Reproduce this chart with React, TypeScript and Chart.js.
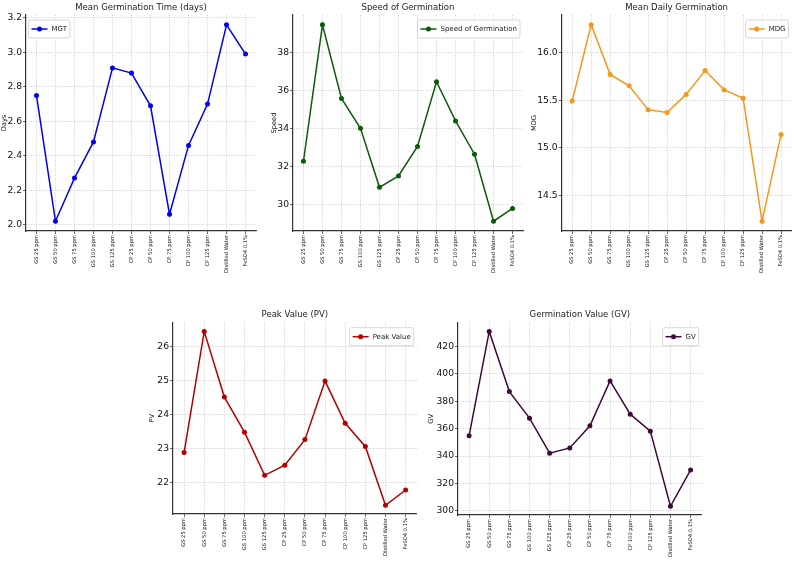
import React, { useEffect, useRef } from "react";
import { Chart, registerables } from "chart.js";
Chart.register(...registerables);

const FONT = "DejaVu Sans";

const categories = [
  "GS 25 ppm", "GS 50 ppm", "GS 75 ppm", "GS 100 ppm", "GS 125 ppm",
  "CP 25 ppm", "CP 50 ppm", "CP 75 ppm", "CP 100 ppm", "CP 125 ppm",
  "Distilled Water", "FeSO4 0.1%",
];

const mgtValues = [2.75, 2.02, 2.27, 2.48, 2.91, 2.88, 2.69, 2.06, 2.46, 2.70, 3.16, 2.99];
const speedValues = [32.27, 39.44, 35.57, 34.0, 30.9, 31.5, 33.05, 36.45, 34.39, 32.64, 29.12, 29.79];
const mdgValues = [15.49, 16.29, 15.77, 15.65, 15.4, 15.37, 15.56, 15.81, 15.61, 15.52, 14.23, 15.14];
const pvValues = [22.88, 26.44, 24.51, 23.48, 22.21, 22.51, 23.26, 24.98, 23.74, 23.06, 21.33, 21.78];
const gvValues = [354.8, 431.0, 387.1, 367.7, 342.1, 346.0, 362.1, 394.9, 370.6, 358.2, 303.4, 329.9];

const mgtTicks = [2.0, 2.2, 2.4, 2.6, 2.8, 3.0, 3.2];
const speedTicks = [30, 32, 34, 36, 38];
const mdgTicks = [14.5, 15.0, 15.5, 16.0];
const pvTicks = [22, 23, 24, 25, 26];
const gvTicks = [300, 320, 340, 360, 380, 400, 420];

type Spec = {
  title: string; label: string; yTitle: string; color: string;
  values: number[]; ticks: number[]; decimals: number; legendSide: "left" | "right";
  left: number; top: number; w: number; h: number;
  yWidth: number; padR: number; xHeight: number;
  titleTop: number; titleBottom: number; yTitlePad: number;
};

const panels: Spec[] = [
  { title: "Mean Germination Time (days)", label: "MGT", yTitle: "Days", color: "#0000ee",
    values: mgtValues, ticks: mgtTicks, decimals: 1, legendSide: "left",
    left: 0, top: 0, w: 262, h: 290, yWidth: 26, padR: 6, xHeight: 59,
    titleTop: 2.4, titleBottom: 2.4, yTitlePad: 0.5 },
  { title: "Speed of Germination", label: "Speed of Germination", yTitle: "Speed", color: "#0b5a0b",
    values: speedValues, ticks: speedTicks, decimals: 0, legendSide: "right",
    left: 262, top: 0, w: 264, h: 290, yWidth: 31, padR: 3, xHeight: 59,
    titleTop: 2.4, titleBottom: 2.4, yTitlePad: 8 },
  { title: "Mean Daily Germination", label: "MDG", yTitle: "MDG", color: "#f5971a",
    values: mdgValues, ticks: mdgTicks, decimals: 1, legendSide: "right",
    left: 526, top: 0, w: 268, h: 290, yWidth: 35.7, padR: 2.5, xHeight: 59,
    titleTop: 2.4, titleBottom: 2.4, yTitlePad: 4 },
  { title: "Peak Value (PV)", label: "Peak Value", yTitle: "PV", color: "#b30000",
    values: pvValues, ticks: pvTicks, decimals: 0, legendSide: "right",
    left: 145, top: 300, w: 275, h: 266, yWidth: 28, padR: 3.3, xHeight: 52,
    titleTop: 9.9, titleBottom: 2.6, yTitlePad: 3.5 },
  { title: "Germination Value (GV)", label: "GV", yTitle: "GV", color: "#3f0a3a",
    values: gvValues, ticks: gvTicks, decimals: 0, legendSide: "right",
    left: 420, top: 300, w: 290, h: 266, yWidth: 38, padR: 8.3, xHeight: 51,
    titleTop: 9.9, titleBottom: 2.6, yTitlePad: 7 },
];

const insideLegend = {
  id: "insideLegend",
  afterDraw(chart: any, _args: any, opts: any) {
    const { ctx, chartArea } = chart;
    ctx.save();
    ctx.font = `7px "${FONT}"`;
    const tw = ctx.measureText(opts.text).width;
    const bw = 23 + tw + 3;
    const bh = 18;
    const bx = opts.side === "left" ? chartArea.left + 2.5 : chartArea.right - 3 - bw;
    const by = chartArea.top + 5;
    ctx.beginPath();
    if (ctx.roundRect) ctx.roundRect(bx, by, bw, bh, 2);
    else ctx.rect(bx, by, bw, bh);
    ctx.fillStyle = "rgba(255,255,255,0.85)";
    ctx.fill();
    ctx.strokeStyle = "#cccccc";
    ctx.lineWidth = 0.8;
    ctx.stroke();
    const my = by + bh / 2;
    ctx.strokeStyle = opts.color;
    ctx.lineWidth = 1.5;
    ctx.beginPath();
    ctx.moveTo(bx + 3, my);
    ctx.lineTo(bx + 19, my);
    ctx.stroke();
    ctx.fillStyle = opts.color;
    ctx.beginPath();
    ctx.arc(bx + 11, my, 2.5, 0, Math.PI * 2);
    ctx.fill();
    ctx.fillStyle = "#1a1a1a";
    ctx.textBaseline = "middle";
    ctx.textAlign = "left";
    ctx.fillText(opts.text, bx + 23, my + 0.5);
    ctx.restore();
  },
};

const GRID = "#c0c0c0";

function Panel({ spec }: { spec: Spec }) {
  const ref = useRef<HTMLCanvasElement>(null);
  useEffect(() => {
    const canvas = ref.current!;
    const lo = Math.min(...spec.values);
    const hi = Math.max(...spec.values);
    const m = (hi - lo) * 0.05;
    const n = categories.length;
    const gridOpts = { color: GRID, lineWidth: 0.8, tickLength: 3, tickColor: "#444", tickWidth: 0.8 };
    const borderOpts = { display: true, color: "#333", width: 1.2, dash: [1, 1.5] };
    const chart = new Chart(canvas, {
      type: "line",
      data: {
        datasets: [{
          label: spec.label,
          data: spec.values.map((v, i) => ({ x: i, y: v })),
          borderColor: spec.color,
          backgroundColor: spec.color,
          borderWidth: 1.5,
          pointRadius: 2.5,
          pointHoverRadius: 2.5,
          pointBorderWidth: 0,
          pointBackgroundColor: spec.color,
          tension: 0,
        }],
      },
      options: {
        animation: false,
        responsive: false,
        maintainAspectRatio: false,
        devicePixelRatio: 1,
        events: [],
        layout: { padding: { left: 0, right: spec.padR, top: 0, bottom: 0 } },
        plugins: {
          legend: { display: false },
          tooltip: { enabled: false },
          title: {
            display: true, text: spec.title, fullSize: false, color: "#1a1a1a",
            font: { family: FONT, size: 8.5, weight: "normal" },
            padding: { top: spec.titleTop, bottom: spec.titleBottom },
          },
          insideLegend: { text: spec.label, color: spec.color, side: spec.legendSide },
        } as any,
        scales: {
          x: {
            type: "linear", bounds: "data", min: -0.55, max: n - 1 + 0.55,
            afterBuildTicks: (s: any) => { s.ticks = categories.map((_, i) => ({ value: i })); },
            afterFit: (s: any) => { s.height = spec.xHeight; },
            ticks: {
              autoSkip: false, maxRotation: 90, minRotation: 90, padding: 1,
              font: { family: FONT, size: 5.2 }, color: "#111",
              callback: (v: any) => categories[Math.round(Number(v))],
            },
            grid: gridOpts, border: borderOpts,
          },
          y: {
            type: "linear", bounds: "data", min: lo - m, max: hi + m,
            afterBuildTicks: (s: any) => { s.ticks = spec.ticks.map((v) => ({ value: v })); },
            afterFit: (s: any) => { s.width = spec.yWidth; },
            ticks: {
              padding: 1, font: { family: FONT, size: 9.2 }, color: "#111",
              callback: (v: any) => Number(v).toFixed(spec.decimals),
            },
            grid: gridOpts, border: borderOpts,
            title: {
              display: true, text: spec.yTitle, color: "#111",
              font: { family: FONT, size: 6.7 },
              padding: { top: spec.yTitlePad, bottom: 0 },
            },
          },
        },
      } as any,
      plugins: [insideLegend as any],
    });
    return () => chart.destroy();
  }, [spec]);
  return (
    <canvas
      ref={ref}
      width={spec.w}
      height={spec.h}
      style={{ position: "absolute", left: spec.left, top: spec.top, width: spec.w, height: spec.h }}
    />
  );
}

export default function App() {
  return (
    <div style={{ position: "absolute", left: 0, top: 0, width: 794, height: 566, background: "#ffffff", overflow: "hidden" }}>
      {panels.map((p) => (
        <Panel key={p.title} spec={p} />
      ))}
    </div>
  );
}
